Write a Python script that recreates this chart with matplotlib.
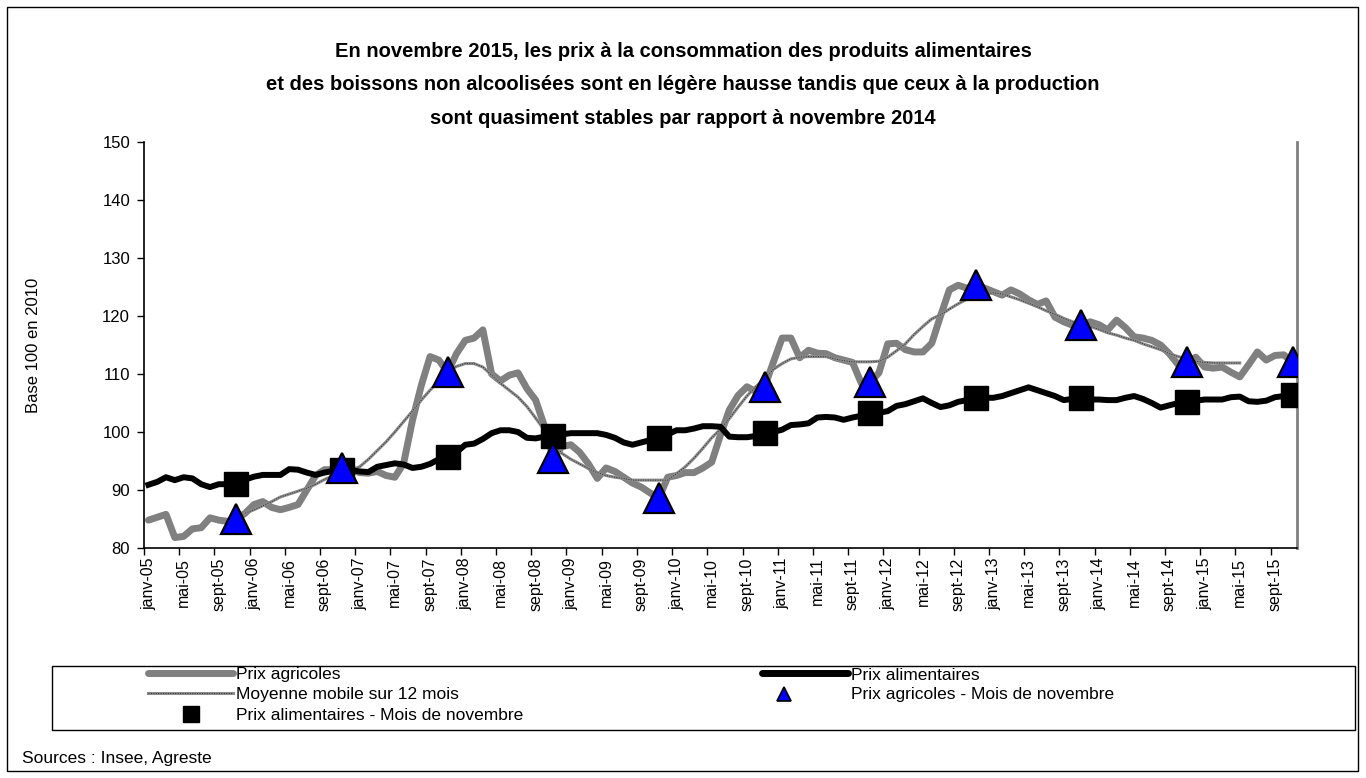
import numpy as np
import matplotlib
matplotlib.use("Agg")
import matplotlib.pyplot as plt
from matplotlib.lines import Line2D
from matplotlib.patches import Rectangle

plt.rcParams['font.family'] = ['Liberation Sans', 'DejaVu Sans']

# ---------------- data ----------------
mois_fr = ["janv", "févr", "mars", "avr", "mai", "juin", "juil", "août", "sept", "oct", "nov", "déc"]
months = [f"{mois_fr[m]}-{y:02d}" for y in range(5, 16) for m in range(12)][:131]

prix_agricoles = [
    84.8, 85.3, 85.8, 81.8, 82.0, 83.3, 83.5, 85.2, 84.8, 84.6, 85.0, 86.0,
    87.5, 88.0, 87.0, 86.6, 87.0, 87.5, 90.0, 92.5, 93.5, 93.5, 93.8, 93.5,
    93.0, 92.9, 93.2, 92.5, 92.2, 94.6, 102.0, 108.0, 113.0, 112.4, 110.3, 113.5,
    115.8, 116.2, 117.6, 110.0, 108.8, 109.8, 110.2, 107.5, 105.5, 101.0, 95.5, 97.5,
    97.8, 96.5, 94.5, 92.0, 93.8, 93.2, 92.2, 91.2, 90.5, 89.5, 88.6, 92.2,
    92.5, 93.0, 93.0, 93.8, 94.8, 99.5, 103.8, 106.3, 107.8, 107.0, 107.8, 112.0,
    116.2, 116.2, 112.8, 114.1, 113.6, 113.5, 112.8, 112.4, 112.0, 108.4, 108.6, 110.2,
    115.2, 115.3, 114.2, 113.8, 113.8, 115.3, 120.0, 124.5, 125.3, 124.8, 125.3, 124.8,
    124.2, 123.6, 124.5, 123.8, 122.8, 122.0, 122.6, 119.8, 119.0, 118.4, 118.4, 119.0,
    118.5, 117.6, 119.3, 118.0, 116.4, 116.2, 115.8, 115.0, 113.5, 111.6, 112.0, 112.9,
    111.2, 111.0, 111.2, 110.3, 109.5, 111.6, 113.8, 112.4, 113.2, 113.3, 112.0,
]

prix_alimentaires = [
    90.9, 91.4, 92.2, 91.7, 92.2, 92.0, 91.0, 90.5, 91.0, 91.0, 91.0, 91.8,
    92.3, 92.6, 92.6, 92.6, 93.6, 93.5, 93.0, 92.6, 93.0, 93.3, 93.4, 93.4,
    93.2, 93.1, 94.0, 94.3, 94.6, 94.4, 93.8, 94.0, 94.5, 95.3, 95.7, 96.5,
    97.8, 98.0, 98.8, 99.8, 100.3, 100.3, 100.0, 99.0, 98.9, 99.2, 99.3, 99.6,
    99.8, 99.8, 99.8, 99.8, 99.5, 99.0, 98.2, 97.8, 98.2, 98.6, 98.9, 99.6,
    100.3, 100.3, 100.6, 101.0, 101.0, 100.9, 99.2, 99.1, 99.1, 99.3, 99.8, 100.0,
    100.4, 101.2, 101.3, 101.5, 102.5, 102.6, 102.5, 102.1, 102.5, 102.8, 103.2, 103.3,
    103.6, 104.5, 104.8, 105.3, 105.8, 105.0, 104.3, 104.6, 105.2, 105.5, 105.9, 105.9,
    105.9, 106.2, 106.7, 107.2, 107.7, 107.2, 106.7, 106.2, 105.5, 105.7, 105.9, 105.6,
    105.6, 105.5, 105.5, 105.9, 106.2, 105.7, 105.0, 104.2, 104.6, 105.0, 105.2, 105.4,
    105.6, 105.6, 105.6, 106.0, 106.1, 105.3, 105.2, 105.4, 106.0, 106.2, 106.4,
]

# 12-month moving average (drawn from dec-05 to mai-15)
ma_start = 11
moyenne_mobile = [
    86.0, 86.6, 87.3, 88.0, 88.8, 89.3, 89.8, 90.3, 91.0, 91.8, 92.5, 93.0,
    93.5, 94.0, 95.3, 96.8, 98.3, 100.0, 101.8, 103.6, 105.5, 107.2, 108.8, 110.4,
    111.3, 111.8, 111.8, 111.2, 109.8, 108.4, 107.2, 106.0, 104.4, 102.4, 100.3, 98.2,
    96.3, 95.3, 94.5, 93.7, 93.0, 92.5, 92.2, 92.0, 91.7, 91.7, 91.7, 91.7,
    91.7, 92.8, 94.0, 95.5, 97.2, 99.0, 100.5, 102.3, 104.3, 106.2, 107.8, 109.2,
    110.8, 111.8, 112.6, 112.9, 113.0, 113.0, 113.0, 112.6, 112.3, 112.1, 112.1, 112.1,
    112.2, 112.9, 114.0, 115.2, 116.8, 118.2, 119.5, 120.2, 121.2, 122.1, 122.9, 123.5,
    123.8, 124.0, 123.8, 123.3, 122.8, 122.2, 121.6, 120.9, 120.3, 119.6, 119.0, 118.6,
    118.2, 117.7, 117.1, 116.7, 116.2, 115.8, 115.2, 114.7, 114.2, 113.5, 113.0, 112.6,
    112.2, 112.0, 111.9, 111.9, 111.9, 111.9,
]

title = ("En novembre 2015, les prix à la consommation des produits alimentaires\n"
         "et des boissons non alcoolisées sont en légère hausse tandis que ceux à la production\n"
         "sont quasiment stables par rapport à novembre 2014")
y_label = "Base 100 en 2010"
source = "Sources : Insee, Agreste"
leg_labels = ["Prix agricoles", "Prix alimentaires", "Moyenne mobile sur 12 mois",
              "Prix agricoles - Mois de novembre", "Prix alimentaires - Mois de novembre"]

# ---------------- figure ----------------
W, H = 1366, 778
fig = plt.figure(figsize=(W / 100, H / 100), dpi=100)
fig.patch.set_facecolor("white")

def fx(px):
    return px / W

def fy(py):
    return 1 - py / H

ax = fig.add_axes([fx(144), fy(548), fx(1297) - fx(144), fy(142) - fy(548)])

x = np.arange(len(months))
agr = np.array(prix_agricoles)
ali = np.array(prix_alimentaires)
x_ma = np.arange(ma_start, ma_start + len(moyenne_mobile))
nov = np.array([i for i, m in enumerate(months) if m.startswith("nov")])

GRAY = "#808080"
MA_OUT = "#8c8c8c"
MA_IN = "#2a2a2a"
ax.plot(x, agr, color=GRAY, lw=5.0, solid_joinstyle="round", solid_capstyle="round", zorder=2)
ax.plot(x_ma, moyenne_mobile, color=MA_OUT, lw=2.2, zorder=3)
ax.plot(x_ma, moyenne_mobile, color=MA_IN, lw=0.7, dashes=(1, 1.5), zorder=3)
ax.plot(x, ali, color="black", lw=4.3, solid_joinstyle="round", zorder=4)
ax.plot(nov, ali[nov], linestyle="none", marker="s", ms=17, mfc="black", mec="black", zorder=5)
ax.plot(nov, agr[nov], linestyle="none", marker="^", ms=21, mfc="#0000ff", mec="black", mew=1.6, zorder=6)

ax.set_xlim(-0.5, len(months) - 0.5)
ax.set_ylim(80, 150)
ax.set_yticks(np.arange(80, 151, 10))
ax.tick_params(axis="y", labelsize=12, length=5, width=1, direction="out", pad=5)
ax.set_xticks(x[::4])
ax.set_xticklabels(months[::4], rotation=90, fontsize=11.5)
ax.set_xticks(np.arange(-0.5, len(months), 4), minor=True)
ax.tick_params(axis="x", which="major", length=0, pad=7)
ax.tick_params(axis="x", which="minor", length=5, width=1, direction="out")
ax.set_ylabel(y_label, fontsize=12, labelpad=44)

ax.spines["top"].set_visible(False)
ax.spines["right"].set_color(GRAY)
ax.spines["right"].set_linewidth(2)
ax.spines["left"].set_linewidth(1.2)
ax.spines["bottom"].set_linewidth(1.2)

# title
fig.text(fx(683), fy(85), title, ha="center", va="center", fontsize=14.5,
         fontweight="bold", linespacing=1.95)

# outer frame
fig.add_artist(Rectangle((fx(7), fy(771)), fx(1358) - fx(7), fy(7) - fy(771),
                         transform=fig.transFigure, fill=False, edgecolor="black", lw=1.0))

# legend box
fig.add_artist(Rectangle((fx(52), fy(730)), fx(1355) - fx(52), fy(666) - fy(730),
                         transform=fig.transFigure, fill=False, edgecolor="black", lw=1.0))

def leg_line(x0, x1, yy, **kw):
    fig.add_artist(Line2D([fx(x0), fx(x1)], [fy(yy), fy(yy)], transform=fig.transFigure, **kw))

def leg_marker(xx, yy, **kw):
    fig.add_artist(Line2D([fx(xx)], [fy(yy)], transform=fig.transFigure, linestyle="none", **kw))

LFS = 12.5
leg_line(148, 233, 673, color=GRAY, lw=5.0, solid_capstyle="round")
fig.text(fx(236), fy(675), leg_labels[0], ha="left", va="center", fontsize=LFS)
leg_line(762, 848, 673, color="black", lw=5.0, solid_capstyle="round")
fig.text(fx(851), fy(675), leg_labels[1], ha="left", va="center", fontsize=LFS)
leg_line(148, 233, 693, color=MA_OUT, lw=2.2)
leg_line(148, 233, 693, color=MA_IN, lw=0.7, dashes=(1, 1.5))
fig.text(fx(236), fy(695), leg_labels[2], ha="left", va="center", fontsize=LFS)
leg_marker(784, 694, marker="^", ms=10, mfc="#0000ff", mec="black", mew=1.2)
fig.text(fx(851), fy(695), leg_labels[3], ha="left", va="center", fontsize=LFS)
leg_marker(191, 714, marker="s", ms=12, mfc="black", mec="black")
fig.text(fx(236), fy(715), leg_labels[4], ha="left", va="center", fontsize=LFS)

fig.text(fx(22), fy(758), source, ha="left", va="center", fontsize=12.5)

fig.savefig("out.png", dpi=100, facecolor="white")
